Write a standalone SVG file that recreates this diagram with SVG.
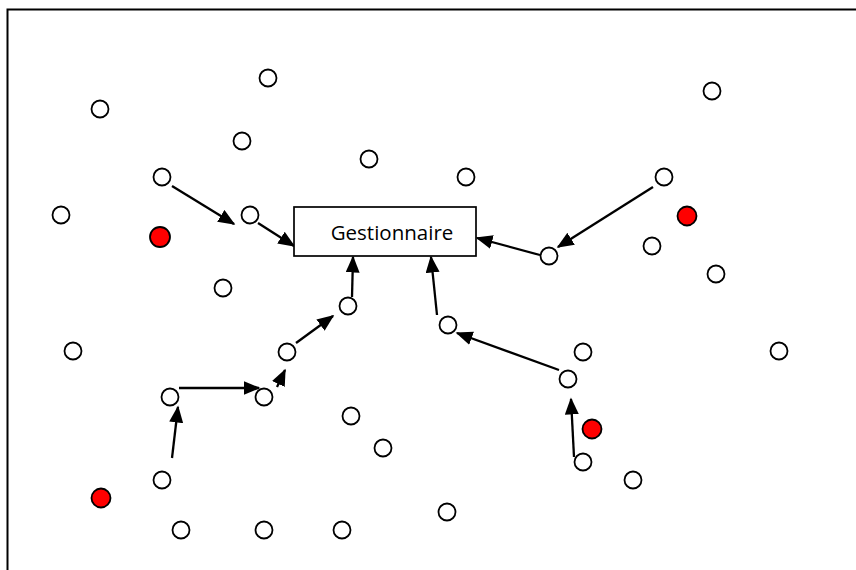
<svg xmlns="http://www.w3.org/2000/svg" width="856" height="570" viewBox="0 0 856 570">
  <style>
    .node { fill: #ffffff; stroke: #000000; stroke-width: 1.8; }
    .red { fill: #ff0000; stroke: #000000; stroke-width: 1.8; }
    .box { fill: #ffffff; stroke: #000000; stroke-width: 1.7; }
    .label { font-family: "Open Sans", "Liberation Sans", sans-serif; font-size: 20.5px; fill: #000000; }
    .link { stroke: #000000; stroke-width: 2.3; fill: none; marker-end: url(#head); }
  </style>
  <defs>
    <marker id="head" markerUnits="userSpaceOnUse" markerWidth="18" markerHeight="15" refX="15.5" refY="7" orient="auto">
      <path d="M0,0 L17,7 L0,14 Z" fill="#000000"/>
    </marker>
  </defs>
  <rect width="856" height="570" fill="#ffffff"/>
  <!-- frame: only top and left edges fall inside the view -->
  <path d="M7.5,580 L7.5,9.5 L870,9.5" fill="none" stroke="#000000" stroke-width="2"/>

  <g id="connectors">
    <line class="link" x1="172" y1="186" x2="234" y2="224"/>
    <line class="link" x1="258" y1="223" x2="294" y2="246"/>
    <line class="link" x1="352" y1="297" x2="353" y2="257"/>
    <line class="link" x1="437" y1="315" x2="431" y2="257"/>
    <line class="link" x1="540" y1="255" x2="477" y2="238"/>
    <line class="link" x1="653" y1="187" x2="558" y2="247"/>
    <line class="link" x1="559" y1="370" x2="457" y2="333"/>
    <line class="link" x1="574" y1="457" x2="571" y2="399"/>
    <line class="link" x1="172" y1="458" x2="178" y2="407"/>
    <line class="link" x1="179" y1="388" x2="259" y2="388"/>
    <line class="link" x1="277" y1="387" x2="285" y2="370"/>
    <line class="link" x1="296" y1="343" x2="333" y2="316"/>
  </g>

  <g id="gestionnaire">
    <rect class="box" x="294" y="207" width="182" height="49"/>
    <text class="label" x="392" y="240" text-anchor="middle">Gestionnaire</text>
  </g>

  <g id="n1"><circle class="node" cx="268" cy="78" r="8.5"/></g>
  <g id="n2"><circle class="node" cx="100" cy="109" r="8.5"/></g>
  <g id="n3"><circle class="node" cx="242" cy="141" r="8.5"/></g>
  <g id="n4"><circle class="node" cx="369" cy="159" r="8.5"/></g>
  <g id="n5"><circle class="node" cx="162" cy="177" r="8.5"/></g>
  <g id="n6"><circle class="node" cx="466" cy="177" r="8.5"/></g>
  <g id="n7"><circle class="node" cx="712" cy="91" r="8.5"/></g>
  <g id="n8"><circle class="node" cx="664" cy="177" r="8.5"/></g>
  <g id="n9"><circle class="node" cx="61" cy="215" r="8.5"/></g>
  <g id="n10"><circle class="node" cx="250" cy="215" r="8.5"/></g>
  <g id="n11"><circle class="node" cx="652" cy="246" r="8.5"/></g>
  <g id="n12"><circle class="node" cx="549" cy="256" r="8.5"/></g>
  <g id="n13"><circle class="node" cx="716" cy="274" r="8.5"/></g>
  <g id="n14"><circle class="node" cx="223" cy="288" r="8.5"/></g>
  <g id="n15"><circle class="node" cx="348" cy="306" r="8.5"/></g>
  <g id="n16"><circle class="node" cx="448" cy="325" r="8.5"/></g>
  <g id="n17"><circle class="node" cx="73" cy="351" r="8.5"/></g>
  <g id="n18"><circle class="node" cx="287" cy="352" r="8.5"/></g>
  <g id="n19"><circle class="node" cx="583" cy="352" r="8.5"/></g>
  <g id="n20"><circle class="node" cx="779" cy="351" r="8.5"/></g>
  <g id="n21"><circle class="node" cx="568" cy="379" r="8.5"/></g>
  <g id="n22"><circle class="node" cx="170" cy="397" r="8.5"/></g>
  <g id="n23"><circle class="node" cx="264" cy="397" r="8.5"/></g>
  <g id="n24"><circle class="node" cx="351" cy="416" r="8.5"/></g>
  <g id="n25"><circle class="node" cx="383" cy="448" r="8.5"/></g>
  <g id="n26"><circle class="node" cx="583" cy="462" r="8.5"/></g>
  <g id="n27"><circle class="node" cx="162" cy="480" r="8.5"/></g>
  <g id="n28"><circle class="node" cx="633" cy="480" r="8.5"/></g>
  <g id="n29"><circle class="node" cx="447" cy="512" r="8.5"/></g>
  <g id="n30"><circle class="node" cx="181" cy="530" r="8.5"/></g>
  <g id="n31"><circle class="node" cx="264" cy="530" r="8.5"/></g>
  <g id="n32"><circle class="node" cx="342" cy="530" r="8.5"/></g>

  <g id="r1"><circle class="red" cx="160" cy="237" r="10"/></g>
  <g id="r2"><circle class="red" cx="687" cy="216" r="9.5"/></g>
  <g id="r3"><circle class="red" cx="592" cy="429" r="9.5"/></g>
  <g id="r4"><circle class="red" cx="101" cy="498" r="9.5"/></g>
</svg>
